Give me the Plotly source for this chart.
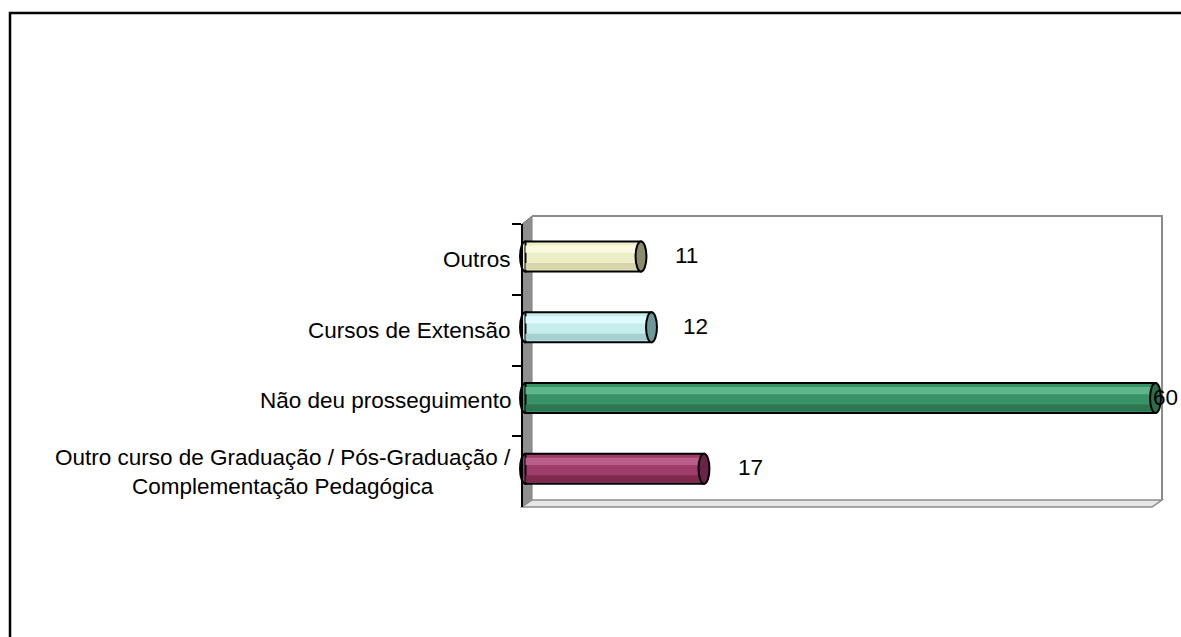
import plotly.graph_objects as go

# Survey answers: what graduates did after the course
categories = [
    "Outro curso de Graduação / Pós-Graduação /<br>Complementação Pedagógica",
    "Não deu prosseguimento",
    "Cursos de Extensão",
    "Outros",
]
values = [17, 60, 12, 11]

# cylinder colours: body, highlight stripe, shadow stripe, end cap
body_colors = ["#9E3C6A", "#3A9268", "#C6ECEC", "#EEEEC6"]
light_colors = ["#B85E88", "#5DB689", "#DDFBFB", "#FAFADF"]
dark_colors = ["#80294F", "#2C7650", "#A6D0D0", "#D6D6AA"]
cap_colors = ["#6C2349", "#2D6C4C", "#6C9898", "#8C8C6C"]

# value label horizontal offsets (px) from the bar end
label_shift = [46, 10, 44, 45]

W, H = 1181, 637
FONT = "Liberation Sans, Arial, sans-serif"
FONT_SIZE = 22.5


def px(x):
    return x / W


def py(y):
    return 1 - y / H


# pixel geometry of the plotting box
X_ZERO, X_SCALE = 525.5, 10.5          # pixel of value 0, pixels per unit
X_LEFT, X_RIGHT = 500, 1175            # x-axis domain in pixels
Y_TOP, Y_BOT = 224, 507                # y-axis domain in pixels
BAR_W = 0.424                          # bar thickness in category units
BAR_SHIFT = 0.04                       # bars sit slightly above band centre
CAP_HALF = 0.52                        # half width of the elliptical caps

x_range = [(X_LEFT - X_ZERO) / X_SCALE, (X_RIGHT - X_ZERO) / X_SCALE]

fig = go.Figure()

# cylinder body
fig.add_trace(go.Bar(
    y=categories, x=values, orientation="h",
    width=BAR_W, offset=BAR_SHIFT - BAR_W / 2,
    marker=dict(color=body_colors, line=dict(color="black", width=2)),
    hoverinfo="skip",
))
# highlight stripe
fig.add_trace(go.Bar(
    y=categories, x=values, orientation="h",
    width=0.10, offset=BAR_SHIFT + 0.055,
    marker=dict(color=light_colors, line=dict(width=0)),
    hoverinfo="skip",
))
# shadow stripe
fig.add_trace(go.Bar(
    y=categories, x=values, orientation="h",
    width=0.095, offset=BAR_SHIFT - 0.185,
    marker=dict(color=dark_colors, line=dict(width=0)),
    hoverinfo="skip",
))

shapes = []
wall_grey = "#8C8C8C"

# side wall
shapes.append(dict(
    type="path", xref="paper", yref="paper", layer="below",
    path=f"M {px(522)},{py(224)} L {px(532)},{py(216)} L {px(532)},{py(500)} L {px(522)},{py(507)} Z",
    fillcolor="#8F8F8F", line=dict(color="#7C7C7C", width=1),
))
# floor
shapes.append(dict(
    type="path", xref="paper", yref="paper", layer="below",
    path=f"M {px(522)},{py(507)} L {px(1152)},{py(507)} L {px(1162)},{py(500)} L {px(532)},{py(500)} Z",
    fillcolor="#E6E6E6", line=dict(color=wall_grey, width=1.5),
))
# back wall outline (top and right edges)
shapes.append(dict(
    type="path", xref="paper", yref="paper", layer="below",
    path=f"M {px(532)},{py(216)} L {px(1162)},{py(216)} L {px(1162)},{py(500)}",
    line=dict(color=wall_grey, width=2),
))

# cylinder caps
for i, v in enumerate(values):
    c = i + BAR_SHIFT
    shapes.append(dict(
        type="circle", xref="x", yref="y", layer="below",
        x0=-CAP_HALF, x1=CAP_HALF, y0=c - BAR_W / 2, y1=c + BAR_W / 2,
        fillcolor=body_colors[i], line=dict(color="black", width=2),
    ))
    shapes.append(dict(
        type="circle", xref="x", yref="y", layer="above",
        x0=v - CAP_HALF, x1=v + CAP_HALF, y0=c - BAR_W / 2, y1=c + BAR_W / 2,
        fillcolor=cap_colors[i], line=dict(color="black", width=2),
    ))

# outer chart border
shapes.append(dict(
    type="rect", xref="paper", yref="paper", layer="above",
    x0=px(10), y0=py(13), x1=1.05, y1=-0.05,
    line=dict(color="black", width=2.5), fillcolor="rgba(0,0,0,0)",
))

annotations = []
# category labels
for i, cat in enumerate(categories):
    annotations.append(dict(
        x=px(513), y=i, xref="paper", yref="y",
        text=cat, showarrow=False, xanchor="right", yanchor="middle",
        align="center", font=dict(family=FONT, size=FONT_SIZE, color="black"),
    ))
# value labels
for i, v in enumerate(values):
    annotations.append(dict(
        x=v, y=i + BAR_SHIFT, xref="x", yref="y",
        text=str(v), showarrow=False, xanchor="center", yanchor="middle",
        xshift=label_shift[i], yshift=1,
        font=dict(family=FONT, size=FONT_SIZE, color="black"),
    ))

fig.update_layout(
    width=W, height=H,
    margin=dict(l=0, r=0, t=0, b=0),
    paper_bgcolor="white", plot_bgcolor="rgba(0,0,0,0)",
    showlegend=False, barmode="overlay",
    font=dict(family=FONT, size=FONT_SIZE, color="black"),
    xaxis=dict(
        domain=[px(X_LEFT), px(X_RIGHT)], range=x_range,
        visible=False, fixedrange=True,
    ),
    yaxis=dict(
        type="category", domain=[py(Y_BOT), py(Y_TOP)], range=[-0.5, 3.5],
        anchor="free", position=px(521.5),
        showline=True, linecolor="black", linewidth=2,
        ticks="outside", tickson="boundaries", ticklen=9, tickwidth=2, tickcolor="black",
        showticklabels=False, showgrid=False, zeroline=False, fixedrange=True,
    ),
    shapes=shapes,
    annotations=annotations,
)

fig.write_html("out.html")
